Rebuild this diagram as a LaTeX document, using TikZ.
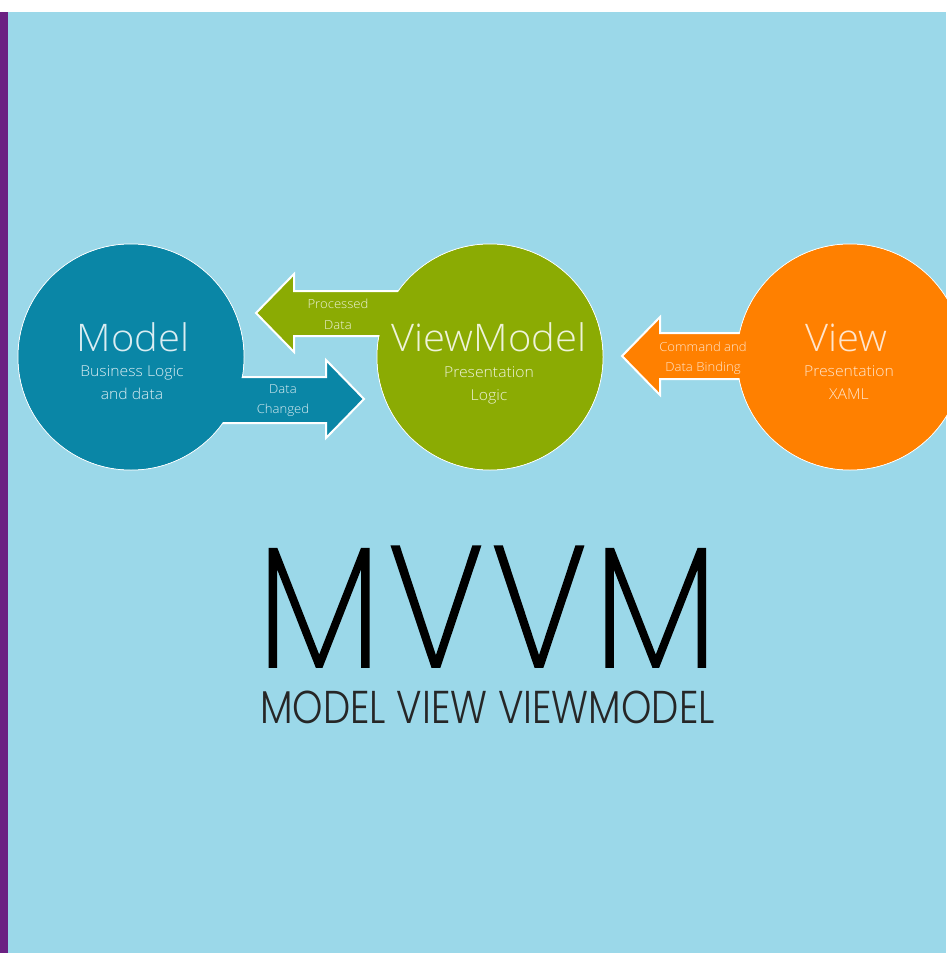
\documentclass[tikz,border=0pt]{standalone}
\usepackage{fontspec}
\setmainfont{Open Sans}
\newfontfamily\lightfont{Open Sans Light}[FakeStretch=1.05]
\newfontfamily\bigfont{Poppins ExtraLight}[FakeStretch=0.88, LetterSpace=3.7, FakeBold=1]
\newfontfamily\geofont{Poppins Light}[FakeStretch=0.84]
\definecolor{bgblue}{HTML}{9BD8E9}
\definecolor{purp}{HTML}{6B2182}
\definecolor{modelblue}{HTML}{0A86A6}
\definecolor{vmgreen}{HTML}{8BAB03}
\definecolor{vorange}{HTML}{FF8000}
\definecolor{subgray}{HTML}{262626}
\tikzset{
  bubble/.style={circle, minimum size=226pt, inner sep=0pt, draw=white, line width=1pt},
  blockarrow/.style={draw=white, line width=2pt, line join=miter},
  title/.style={anchor=base, font=\lightfont\fontsize{38}{38}\selectfont, inner sep=0pt},
  subt/.style={anchor=base, font=\lightfont\fontsize{15}{15}\selectfont, inner sep=0pt},
  albl/.style={anchor=base, font=\lightfont\fontsize{12.5}{12.5}\selectfont, inner sep=0pt},
}
\begin{document}
\begin{tikzpicture}[x=1pt,y=-1pt]
\useasboundingbox (0,0) rectangle (946,953);
\fill[white] (0,0) rectangle (946,12);
\fill[bgblue] (0,12) rectangle (946,953);
\fill[purp] (0,12) rectangle (8,953);

% circles
\node[bubble, fill=modelblue] (model) at (131,357) {};
\node[bubble, fill=vmgreen] (vm) at (490,357) {};
\node[bubble, fill=vorange] (view) at (850,357) {};

% block arrows
\path[blockarrow, fill=modelblue] (model.center) ++(69,20) -- ++(126,0) -- ++(0,-17) -- ++(38,39) -- ++(-38,39) -- ++(0,-15) -- ++(-126,0) -- cycle;
\path[blockarrow, fill=vmgreen] (vm.center) ++(-70,-66) -- ++(-126,0) -- ++(0,-17) -- ++(-38,39) -- ++(38,39) -- ++(0,-16) -- ++(126,0) -- cycle;
\path[blockarrow, fill=vorange] (view.center) ++(-60,-24) -- ++(-130,0) -- ++(0,-16) -- ++(-38,39) -- ++(38,39) -- ++(0,-16) -- ++(130,0) -- cycle;

% refill circle interiors
\fill[modelblue] (model.center) circle[radius=112.5];
\fill[vmgreen] (vm.center) circle[radius=112.5];
\fill[vorange] (view.center) circle[radius=112.5];

% texts
\begin{scope}[text=white!85!modelblue]
\node[title] (mt) at (133,351) {Model};
\node[subt] (ms1) at (132,376) {Business Logic};
\node[subt] (ms2) at (132,399) {and data};
\node[albl] (dc1) at (283,393) {Data};
\node[albl] (dc2) at (283,413) {Changed};
\end{scope}
\begin{scope}[text=white!85!vmgreen]
\node[title] (vt) at (489,351) {ViewModel};
\node[subt] (vs1) at (489,377) {Presentation};
\node[subt] (vs2) at (489,400) {Logic};
\node[albl] (pd1) at (338,308) {Processed};
\node[albl] (pd2) at (338,329) {Data};
\end{scope}
\begin{scope}[text=white!80!vorange]
\node[title] (wt) at (846,351) {View};
\node[subt] (ws1) at (849,376) {Presentation};
\node[subt] (ws2) at (849,399) {XAML};
\node[albl] (cb1) at (703,351) {Command and};
\node[albl] (cb2) at (703,371) {Data Binding};
\end{scope}

% MVVM
\node[anchor=base, inner sep=0pt, text depth=0pt, text=black, font=\bigfont\fontsize{172}{172}\selectfont] (mvvm) at (487.5,667) {MVVM};
\node[anchor=base, inner sep=0pt, text height=33pt, text=subgray, font=\geofont\fontsize{46}{46}\selectfont] (full) at (487.5,723) {MODEL VIEW VIEWMODEL};
\end{tikzpicture}
\end{document}
